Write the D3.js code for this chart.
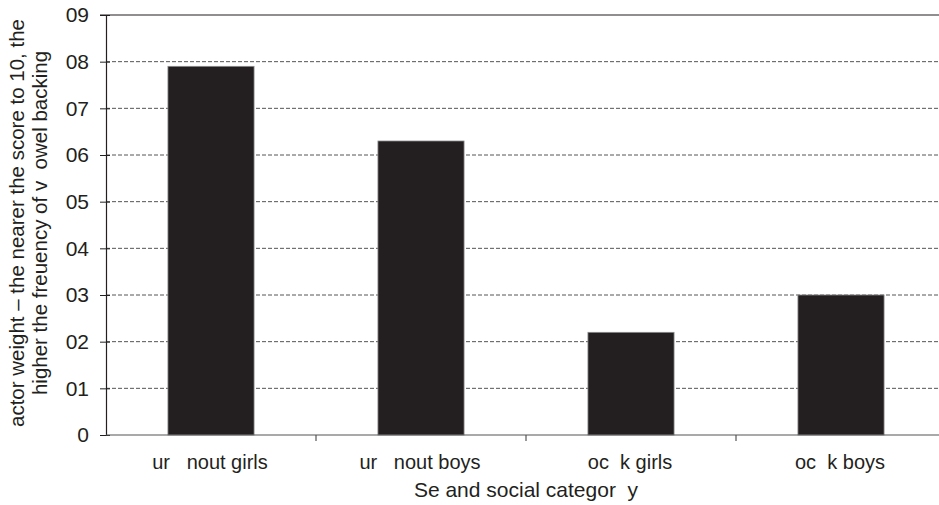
<!DOCTYPE html>
<html><head><meta charset="utf-8">
<script src="https://cdn.jsdelivr.net/npm/d3@7"></script>
<style>body{margin:0;background:#fff}svg{display:block}text{font-family:"Liberation Sans Narrow","Liberation Sans",Arial,sans-serif;fill:#231f20;white-space:pre}</style>
</head><body>
<svg id="c" width="939" height="505"></svg>
<script>
const categories = ["ur   nout girls", "ur   nout boys", "oc  k girls", "oc  k boys"];
const values = [0.79, 0.63, 0.22, 0.30];
const tickValues = [0, 0.1, 0.2, 0.3, 0.4, 0.5, 0.6, 0.7, 0.8, 0.9];
const tickLabels = ["0", "01", "02", "03", "04", "05", "06", "07", "08", "09"];
const xTitle = "Se and social categor  y";
const yTitle = ["actor weight – the nearer the score to 10, the", "higher the freuency of v  owel backing"];

const svg = d3.select("#c");
const L = 106, R = 946, T = 15, B = 435;
const x = d3.scaleBand().domain(categories).range([L, R]).paddingInner(0.59).paddingOuter(0.295);
const y = d3.scaleLinear().domain([0, 0.9]).range([B, T]);

// gridlines
svg.append("g").selectAll("line").data(tickValues.slice(1, -1)).join("line")
  .attr("x1", L).attr("x2", 939).attr("y1", d => y(d)).attr("y2", d => y(d))
  .attr("stroke", "#555").attr("stroke-width", 1).attr("stroke-dasharray", "4,2");
// top border
svg.append("line").attr("x1", L - 6).attr("x2", 939).attr("y1", y(0.9)).attr("y2", y(0.9))
  .attr("stroke", "#231f20").attr("stroke-width", 1.2);

// bars
svg.append("g").selectAll("rect").data(values).join("rect")
  .attr("x", (d, i) => x(categories[i])).attr("width", x.bandwidth())
  .attr("y", d => y(d)).attr("height", d => B - y(d))
  .attr("fill", "#231f20").attr("stroke", "#8a8a8a").attr("stroke-width", 0.8);

// y axis
const yAxis = d3.axisLeft(y).tickValues(tickValues).tickFormat((d, i) => tickLabels[i]).tickSize(6).tickPadding(10);
const gy = svg.append("g").attr("transform", `translate(${L},0)`).call(yAxis);
gy.select(".domain").attr("stroke", "#231f20").attr("stroke-width", 1.2);
gy.selectAll(".tick line").attr("stroke", "#231f20").attr("x2", 4).attr("x1", -6);
gy.selectAll(".tick text").attr("font-size", 21).attr("fill", "#231f20").attr("x", -17)
  .attr("font-family", "'Liberation Sans Narrow','Liberation Sans',Arial,sans-serif");

// x axis
const gx = svg.append("g").attr("transform", `translate(0,${B})`);
gx.append("line").attr("x1", L).attr("x2", 939).attr("stroke", "#555").attr("stroke-width", 1.2);
const step = x.step();
gx.selectAll("line.sep").data(d3.range(1, categories.length)).join("line").attr("class", "sep")
  .attr("x1", i => L + i * step).attr("x2", i => L + i * step).attr("y1", 0).attr("y2", 6)
  .attr("stroke", "#555").attr("stroke-width", 1.2);
gx.selectAll("text").data(categories).join("text")
  .attr("x", d => x(d) + x.bandwidth() / 2 - 1).attr("y", 34)
  .attr("text-anchor", "middle").attr("font-size", 20).text(d => d);

svg.append("text").attr("x", 526).attr("y", 497).attr("text-anchor", "middle")
  .attr("font-size", 21).text(xTitle);

svg.append("g").selectAll("text").data(yTitle).join("text")
  .attr("transform", (d, i) => `translate(${24 + i * 23},${223}) rotate(-90)`)
  .attr("text-anchor", "middle").attr("font-size", 20.5).text(d => d);
</script>
</body></html>
